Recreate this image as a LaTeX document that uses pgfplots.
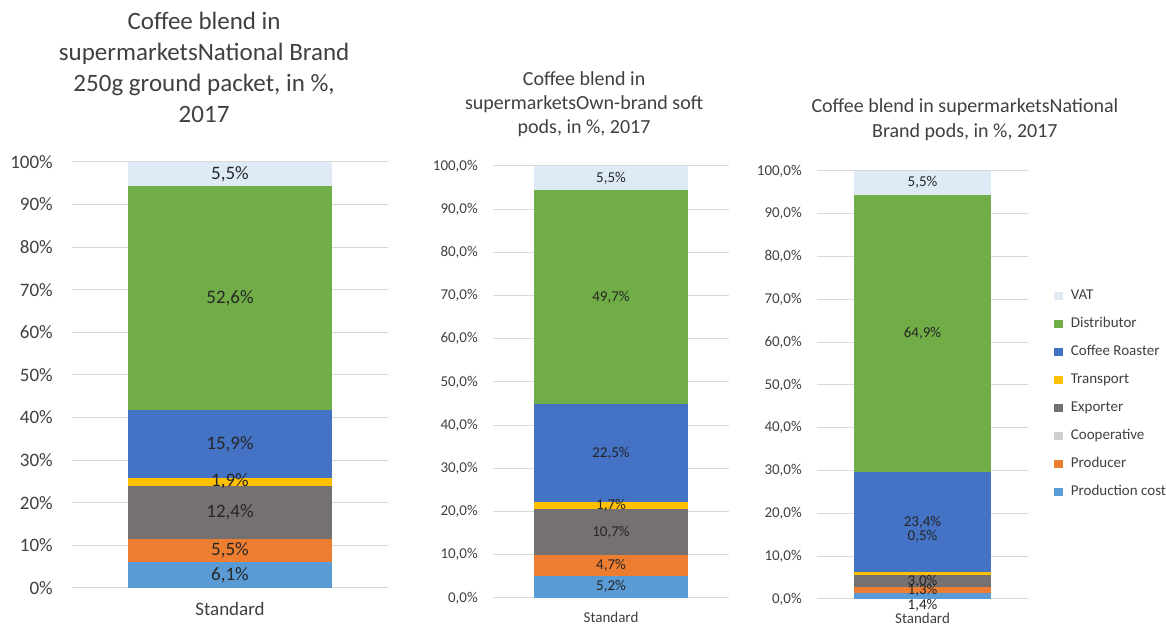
\documentclass[border=0pt]{standalone}
\usepackage{pgfplots}
\pgfplotsset{compat=1.18}
\usepackage{fontspec}
\setmainfont{Carlito}
\definecolor{cVAT}{HTML}{DEEBF7}
\definecolor{cDist}{HTML}{70AD47}
\definecolor{cRoast}{HTML}{4472C4}
\definecolor{cTrans}{HTML}{FFC000}
\definecolor{cExp}{HTML}{767171}
\definecolor{cCoop}{HTML}{D0CECE}
\definecolor{cProd}{HTML}{ED7D31}
\definecolor{cCost}{HTML}{5B9BD5}
\definecolor{ttxt}{HTML}{404040}
\definecolor{ltxt}{HTML}{262626}
\definecolor{gridc}{HTML}{D9D9D9}
\pgfplotsset{
  sqlegend/.style={legend image code/.code={\fill[##1, draw=none] (0pt,-4pt) rectangle (8.5pt,4pt);}},
  cbar/.style={
    scale only axis, ybar stacked, ymin=0, ymax=100, xmin=-1, xmax=1,
    xtick={0}, xticklabels={Standard},
    axis line style={draw=none},
    ymajorgrids, grid style={gridc, line width=1pt},
    major tick length=0pt,
    ytick={0,10,...,100},
    /pgf/number format/assume math mode=true,
    tick label style={text=ttxt},
    xticklabel style={anchor=north, inner sep=0pt},
    yticklabel style={anchor=east, inner sep=0pt},
    title style={text=ttxt, align=center, anchor=north, inner sep=0pt},
    point meta=rawy,
    nodes near coords={\pgfmathprintnumber[fixed,fixed zerofill,precision=1,use comma]{\pgfplotspointmeta}\%},
    every node near coord/.append style={anchor=center, text=ltxt, inner sep=0pt},
    every axis plot/.append style={draw=none},
  },
}
\begin{document}
\begin{tikzpicture}
\path (0pt,0pt) rectangle (1166pt,623pt);
% Chart 1
\begin{axis}[cbar, at={(72pt,35pt)}, anchor=south west,
  width=316pt, height=426pt, bar width=204pt,
  tick label style={font=\fontsize{19}{22}\selectfont},
  xticklabel style={yshift=-14pt},
  yticklabel style={xshift=-19pt},
  yticklabel={\pgfmathprintnumber[fixed,precision=0]{\tick}\%},
  nodes near coords style={font=\fontsize{19}{22}\selectfont},
  title={Coffee blend in\\supermarketsNational Brand\\250g ground packet, in \%,\\2017},
  title style={font=\fontsize{25}{31}\selectfont, at={(axis description cs:0.418,1)}, yshift=144pt},
]
\addplot[fill=cCost] coordinates {(0,6.1)};
\addplot[fill=cProd] coordinates {(0,5.5)};
\addplot[fill=cExp] coordinates {(0,12.4)};
\addplot[fill=cTrans] coordinates {(0,1.9)};
\addplot[fill=cRoast] coordinates {(0,15.9)};
\addplot[fill=cDist] coordinates {(0,52.6)};
\addplot[fill=cVAT] coordinates {(0,5.5)};
\end{axis}
% Chart 2
\begin{axis}[cbar, at={(493pt,25pt)}, anchor=south west,
  width=236pt, height=432pt, bar width=154pt,
  tick label style={font=\fontsize{15}{18}\selectfont},
  xticklabel style={yshift=-14pt},
  yticklabel style={xshift=-15pt},
  yticklabel={\pgfmathprintnumber[fixed,fixed zerofill,precision=1,use comma]{\tick}\%},
  nodes near coords style={font=\fontsize{15}{18}\selectfont},
  title={Coffee blend in\\supermarketsOwn-brand soft\\pods, in \%, 2017},
  title style={font=\fontsize{20}{24}\selectfont, at={(axis description cs:0.386,1)}, yshift=89pt},
]
\addplot[fill=cCost] coordinates {(0,5.2)};
\addplot[fill=cProd] coordinates {(0,4.7)};
\addplot[fill=cExp] coordinates {(0,10.7)};
\addplot[fill=cTrans] coordinates {(0,1.7)};
\addplot[fill=cRoast] coordinates {(0,22.5)};
\addplot[fill=cDist] coordinates {(0,49.7)};
\addplot[fill=cVAT] coordinates {(0,5.5)};
\end{axis}
% Chart 3
\begin{axis}[cbar, at={(817pt,24pt)}, anchor=south west,
  width=211pt, height=428pt, bar width=137pt,
  tick label style={font=\fontsize{15}{18}\selectfont},
  xticklabel style={yshift=-14pt},
  yticklabel style={xshift=-15pt},
  yticklabel={\pgfmathprintnumber[fixed,fixed zerofill,precision=1,use comma]{\tick}\%},
  nodes near coords style={font=\fontsize{15}{18}\selectfont},
  title={Coffee blend in supermarketsNational\\Brand pods, in \%, 2017},
  title style={font=\fontsize{20}{25}\selectfont, at={(axis description cs:0.701,1)}, yshift=67pt},
  reverse legend,
  legend cell align=left,
  legend style={draw=none, fill=none, font=\fontsize{15}{18}\selectfont, text=ttxt,
    at={(axis description cs:1.124,0.724)}, anchor=north west,
    row sep=15pt, inner sep=0pt,
    nodes={inner sep=0pt, text height=10pt, text depth=3pt},
    /tikz/every odd column/.append style={column sep=8pt}},
]
\addplot[fill=cCost, sqlegend, every node near coord/.append style={yshift=-9pt}] coordinates {(0,1.4)};
\addlegendentry{Production cost}
\addplot[fill=cProd, sqlegend] coordinates {(0,1.3)};
\addlegendentry{Producer}
\addlegendimage{sqlegend, fill=cCoop}
\addlegendentry{Cooperative}
\addplot[fill=cExp, sqlegend] coordinates {(0,3.0)};
\addlegendentry{Exporter}
\addplot[fill=cTrans, sqlegend, every node near coord/.append style={yshift=37pt}] coordinates {(0,0.5)};
\addlegendentry{Transport}
\addplot[fill=cRoast, sqlegend] coordinates {(0,23.4)};
\addlegendentry{Coffee Roaster}
\addplot[fill=cDist, sqlegend] coordinates {(0,64.9)};
\addlegendentry{Distributor}
\addplot[fill=cVAT, sqlegend] coordinates {(0,5.5)};
\addlegendentry{VAT}
\end{axis}
\end{tikzpicture}
\end{document}
